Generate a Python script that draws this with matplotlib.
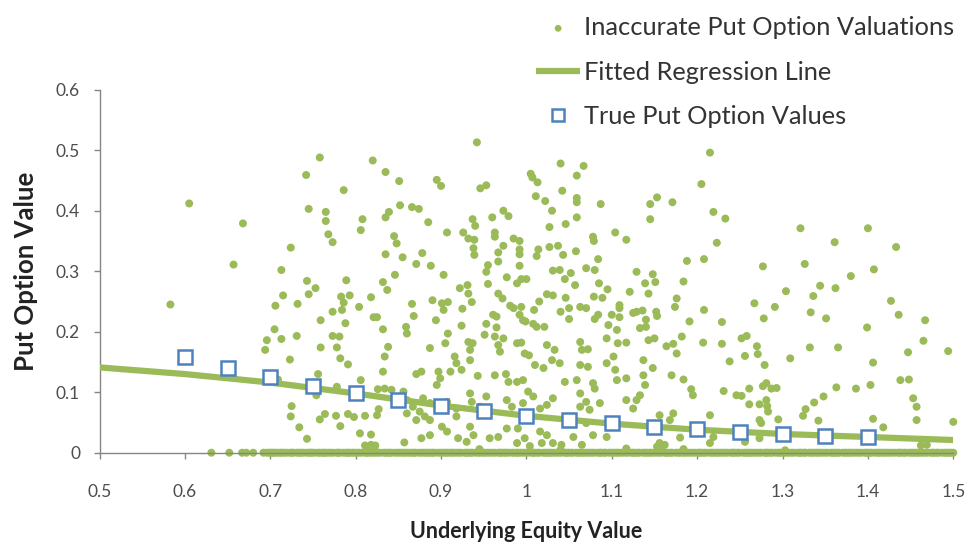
import matplotlib
matplotlib.use("Agg")
import matplotlib.pyplot as plt

plt.rcParams['font.family'] = ['Lato', 'DejaVu Sans']

# Inaccurate put option valuations (x = underlying equity value, y = put value)
inaccurate_pts = [
    (0.758,0.488),(0.820,0.483),(0.835,0.464),(0.742,0.459),(0.786,0.434),(0.605,0.412),(0.745,0.403),
    (0.765,0.398),(0.765,0.383),(0.808,0.386),(0.835,0.389),(0.839,0.398),(0.668,0.379),(0.806,0.368),
    (0.768,0.361),(0.773,0.348),(0.724,0.339),(0.835,0.328),(0.657,0.311),(0.713,0.302),(0.743,0.284),
    (0.789,0.285),(0.832,0.282),(0.753,0.272),(0.837,0.269),(0.715,0.260),(0.745,0.262),(0.783,0.258),
    (0.793,0.260),(0.818,0.257),(0.583,0.245),(0.706,0.243),(0.732,0.246),(0.786,0.248),(0.773,0.233),
    (0.784,0.236),(0.804,0.241),(0.759,0.219),(0.788,0.214),(0.821,0.224),(0.825,0.224),(0.705,0.204),
    (0.832,0.204),(0.696,0.186),(0.713,0.188),(0.731,0.193),(0.694,0.170),(0.759,0.174),(0.773,0.193),
    (0.781,0.192),(0.778,0.174),(0.838,0.175),(0.723,0.154),(0.782,0.156),(0.791,0.146),(0.834,0.159),
    (0.832,0.134),(0.756,0.130),(0.709,0.121),(0.806,0.120),(0.778,0.109),(0.826,0.105),(0.834,0.106),
    (0.754,0.095),(0.725,0.077),(0.724,0.060),(0.764,0.064),(0.758,0.055),(0.777,0.061),(0.791,0.064),
    (0.798,0.059),(0.811,0.061),(0.825,0.062),(0.827,0.072),(0.734,0.042),(0.782,0.044),(0.805,0.032),
    (0.818,0.030),(0.743,0.023),(0.811,0.012),(0.823,0.012),(0.942,0.513),(0.851,0.449),(0.895,0.451),
    (0.900,0.441),(0.946,0.437),(0.953,0.442),(1.040,0.478),(1.067,0.474),(1.005,0.461),(1.007,0.455),
    (1.013,0.447),(1.059,0.458),(1.042,0.433),(1.011,0.424),(1.022,0.416),(1.059,0.421),(1.059,0.414),
    (1.087,0.411),(1.145,0.411),(1.153,0.422),(1.171,0.414),(1.145,0.386),(0.852,0.409),(0.866,0.406),
    (0.874,0.403),(0.885,0.381),(0.973,0.400),(0.979,0.391),(0.960,0.389),(1.030,0.400),(0.937,0.386),
    (0.940,0.375),(1.027,0.373),(1.046,0.378),(1.059,0.389),(0.907,0.364),(0.926,0.364),(0.932,0.354),
    (0.939,0.352),(0.963,0.364),(0.963,0.357),(0.985,0.354),(0.992,0.350),(0.845,0.358),(0.848,0.346),
    (0.973,0.342),(0.938,0.338),(0.939,0.327),(0.992,0.336),(0.992,0.328),(1.014,0.336),(1.012,0.325),
    (1.027,0.340),(1.037,0.342),(1.043,0.327),(1.058,0.333),(1.078,0.357),(1.079,0.350),(1.104,0.364),
    (1.117,0.352),(0.855,0.323),(0.878,0.330),(0.871,0.312),(0.888,0.309),(0.967,0.331),(0.967,0.316),
    (0.955,0.310),(0.953,0.299),(0.992,0.309),(1.084,0.320),(1.070,0.305),(1.080,0.302),(1.031,0.301),
    (1.039,0.302),(1.052,0.297),(0.903,0.294),(0.846,0.294),(0.977,0.290),(0.989,0.280),(0.994,0.287),
    (1.000,0.287),(0.955,0.279),(1.045,0.287),(1.057,0.277),(1.085,0.280),(1.095,0.270),(1.129,0.299),
    (1.148,0.295),(1.151,0.282),(1.139,0.280),(1.143,0.263),(1.121,0.266),(1.176,0.255),(1.174,0.241),
    (0.922,0.272),(0.931,0.277),(0.932,0.263),(0.967,0.263),(0.972,0.255),(1.024,0.262),(1.031,0.260),
    (1.015,0.250),(1.046,0.256),(1.079,0.258),(1.089,0.256),(0.890,0.252),(0.866,0.246),(0.901,0.247),
    (0.908,0.249),(0.903,0.236),(0.936,0.249),(0.925,0.238),(0.981,0.243),(0.985,0.239),(0.994,0.241),
    (1.009,0.236),(1.040,0.233),(1.050,0.239),(1.063,0.241),(1.070,0.239),(1.109,0.244),(1.109,0.239),
    (1.129,0.233),(1.136,0.235),(1.152,0.233),(1.153,0.226),(0.868,0.226),(0.894,0.219),(0.961,0.228),
    (0.965,0.225),(0.992,0.228),(0.996,0.219),(1.050,0.221),(1.084,0.228),(1.080,0.221),(1.100,0.228),
    (1.109,0.224),(1.125,0.231),(1.140,0.220),(0.859,0.208),(0.924,0.210),(0.953,0.213),(0.965,0.207),
    (0.999,0.217),(1.008,0.213),(1.012,0.208),(1.021,0.208),(1.096,0.211),(1.106,0.203),(1.133,0.206),
    (1.140,0.208),(0.860,0.197),(0.908,0.197),(0.905,0.181),(0.932,0.183),(0.937,0.181),(0.934,0.170),
    (0.951,0.195),(0.963,0.192),(0.973,0.189),(0.967,0.178),(0.969,0.167),(0.989,0.181),(0.994,0.182),
    (1.024,0.178),(1.033,0.170),(1.063,0.183),(1.065,0.170),(1.072,0.171),(1.094,0.189),(1.107,0.181),
    (1.117,0.182),(1.143,0.186),(1.150,0.189),(1.164,0.176),(1.172,0.180),(1.176,0.164),(0.887,0.173),
    (0.916,0.159),(0.918,0.148),(0.911,0.134),(0.924,0.137),(0.934,0.153),(0.897,0.134),(0.899,0.123),
    (0.895,0.112),(0.871,0.130),(0.877,0.134),(0.943,0.127),(0.963,0.128),(0.976,0.130),(0.979,0.117),
    (0.989,0.117),(0.996,0.120),(0.998,0.164),(1.003,0.161),(1.010,0.145),(1.020,0.140),(1.030,0.153),
    (1.039,0.148),(1.045,0.117),(1.059,0.120),(1.078,0.115),(1.080,0.106),(1.063,0.145),(1.072,0.142),
    (1.094,0.148),(1.104,0.137),(1.106,0.120),(1.117,0.123),(1.137,0.128),(1.139,0.112),(1.137,0.153),
    (1.148,0.140),(1.170,0.128),(1.102,0.159),(0.842,0.104),(0.856,0.101),(0.860,0.087),(0.879,0.090),
    (0.887,0.082),(0.867,0.076),(0.875,0.068),(0.907,0.084),(0.918,0.073),(0.918,0.060),(0.934,0.098),
    (0.936,0.084),(0.953,0.093),(0.946,0.076),(0.977,0.087),(0.983,0.076),(0.996,0.082),(1.002,0.101),
    (1.008,0.093),(1.016,0.073),(1.024,0.079),(1.031,0.090),(1.063,0.076),(1.070,0.084),(1.074,0.071),
    (1.086,0.082),(1.117,0.087),(1.125,0.073),(1.129,0.087),(1.133,0.095),(1.063,0.098),(1.156,0.062),
    (1.172,0.065),(0.860,0.065),(0.871,0.054),(0.881,0.060),(0.887,0.054),(0.901,0.043),(0.907,0.035),
    (0.934,0.043),(0.938,0.029),(0.957,0.024),(0.967,0.026),(0.977,0.040),(0.990,0.040),(0.998,0.024),
    (1.016,0.035),(1.024,0.029),(1.055,0.026),(1.070,0.049),(1.078,0.029),(1.094,0.026),(0.877,0.024),
    (0.887,0.029),(0.857,0.017),(0.920,0.024),(0.930,0.018),(0.989,0.016),(1.004,0.011),(1.018,0.016),
    (1.031,0.016),(1.041,0.013),(1.065,0.013),(1.117,0.007),(1.156,0.016),(1.162,0.013),(1.215,0.496),
    (1.205,0.444),(1.219,0.398),(1.233,0.387),(1.321,0.371),(1.400,0.371),(1.361,0.348),(1.433,0.340),
    (1.223,0.347),(1.188,0.317),(1.208,0.320),(1.277,0.308),(1.326,0.312),(1.407,0.303),(1.380,0.292),
    (1.184,0.283),(1.304,0.267),(1.344,0.276),(1.362,0.272),(1.336,0.259),(1.208,0.236),(1.267,0.247),
    (1.291,0.241),(1.427,0.251),(1.333,0.232),(1.278,0.222),(1.351,0.222),(1.436,0.228),(1.467,0.219),
    (1.191,0.217),(1.229,0.216),(1.399,0.207),(1.182,0.192),(1.207,0.182),(1.229,0.180),(1.252,0.189),
    (1.258,0.193),(1.270,0.176),(1.271,0.163),(1.256,0.160),(1.238,0.151),(1.279,0.145),(1.309,0.156),
    (1.332,0.174),(1.365,0.174),(1.465,0.185),(1.447,0.166),(1.494,0.168),(1.406,0.149),(1.184,0.121),
    (1.193,0.105),(1.195,0.095),(1.231,0.102),(1.246,0.095),(1.252,0.094),(1.261,0.106),(1.277,0.110),
    (1.281,0.115),(1.287,0.106),(1.293,0.107),(1.273,0.080),(1.281,0.087),(1.282,0.077),(1.283,0.068),
    (1.261,0.080),(1.363,0.108),(1.386,0.106),(1.403,0.112),(1.438,0.120),(1.448,0.121),(1.453,0.090),
    (1.457,0.076),(1.457,0.054),(1.500,0.051),(1.348,0.093),(1.337,0.083),(1.327,0.072),(1.324,0.061),
    (1.342,0.053),(1.406,0.056),(1.418,0.042),(1.295,0.055),(1.273,0.054),(1.275,0.049),(1.215,0.062),
    (1.168,0.054),(1.219,0.026),(1.215,0.016),(1.180,0.025),(1.273,0.024),(1.256,0.018),(1.469,0.013),
    (1.303,0.004),(1.184,0.006),(0.813,0.008),(0.818,0.013),(0.822,0.006),(1.153,0.010),(1.158,0.006),
    (1.462,0.012),(0.945,0.006),(1.040,0.005),
]

# Valuations that came out at zero (x positions along the baseline)
zero_x = [0.631, 0.652, 0.667, 0.672, 0.680, 0.692, 0.696, 0.699, 0.701, 0.703, 0.705, 0.708, 0.711,
          0.713, 0.716, 0.719, 0.723, 0.725, 0.727, 0.731, 0.734, 0.736, 0.738, 0.742, 0.745, 0.747,
          0.749, 0.752, 0.756, 0.758, 0.761, 0.763, 0.765, 0.768, 0.771, 0.774, 0.778, 0.780, 0.782,
          0.786, 0.789, 0.791, 0.793, 0.796, 0.798, 0.801, 0.804, 0.807, 0.811, 0.813, 0.815, 0.818,
          0.820, 0.823, 0.826, 0.829, 0.833, 0.835, 0.838, 0.840, 0.842, 0.846, 0.849, 0.852, 0.855,
          0.857, 0.860, 0.863, 0.866, 0.868, 0.870, 0.874, 0.877, 0.880, 0.883, 0.885, 0.888, 0.890,
          0.892, 0.896, 0.899, 0.902, 0.905, 0.907, 0.910, 0.913, 0.915, 0.918, 0.921, 0.924, 0.928,
          0.930, 0.932, 0.935, 0.937, 0.941, 0.944, 0.946, 0.949, 0.951, 0.954, 0.957, 0.960, 0.963,
          0.967, 0.969, 0.971, 0.974, 0.976, 0.979, 0.983, 0.985, 0.988, 0.990, 0.993, 0.996, 0.999,
          1.002, 1.006, 1.008, 1.010, 1.013, 1.015, 1.019, 1.022, 1.024, 1.027, 1.029, 1.032, 1.035,
          1.038, 1.041, 1.045, 1.047, 1.049, 1.052, 1.054, 1.058, 1.061, 1.063, 1.066, 1.068, 1.071,
          1.074, 1.077, 1.080, 1.084, 1.086, 1.088, 1.091, 1.093, 1.097, 1.100, 1.102, 1.105, 1.107,
          1.110, 1.113, 1.116, 1.119, 1.123, 1.125, 1.127, 1.130, 1.132, 1.136, 1.139, 1.141, 1.144,
          1.146, 1.149, 1.152, 1.155, 1.158, 1.162, 1.164, 1.166, 1.169, 1.171, 1.175, 1.178, 1.180,
          1.183, 1.185, 1.188, 1.191, 1.194, 1.197, 1.201, 1.203, 1.205, 1.208, 1.210, 1.214, 1.217,
          1.219, 1.222, 1.224, 1.227, 1.230, 1.233, 1.236, 1.240, 1.242, 1.244, 1.247, 1.249, 1.253,
          1.256, 1.258, 1.261, 1.263, 1.266, 1.269, 1.272, 1.275, 1.279, 1.281, 1.283, 1.286, 1.288,
          1.292, 1.295, 1.297, 1.300, 1.302, 1.305, 1.308, 1.311, 1.314, 1.318, 1.320, 1.322, 1.325,
          1.327, 1.331, 1.334, 1.336, 1.339, 1.341, 1.344, 1.347, 1.350, 1.353, 1.357, 1.359, 1.361,
          1.364, 1.366, 1.370, 1.373, 1.375, 1.378, 1.380, 1.383, 1.386, 1.389, 1.392, 1.396, 1.398,
          1.400, 1.403, 1.405, 1.409, 1.412, 1.414, 1.417, 1.419, 1.422, 1.425, 1.428, 1.431, 1.435,
          1.437, 1.439, 1.442, 1.444, 1.448, 1.451, 1.453, 1.456, 1.458, 1.461, 1.464, 1.467, 1.470,
          1.474, 1.476, 1.478, 1.481, 1.483, 1.487, 1.490, 1.492, 1.495, 1.497, 1.500]

# Fitted regression line
fit_x = [0.5, 0.6, 0.7, 0.8, 0.9, 1.0, 1.1, 1.2, 1.3, 1.4, 1.5]
fit_y = [0.141, 0.130, 0.116, 0.098, 0.078, 0.061, 0.048, 0.038, 0.031, 0.026, 0.021]

# True put option values
true_x = [0.60, 0.65, 0.70, 0.75, 0.80, 0.85, 0.90, 0.95, 1.00, 1.05, 1.10, 1.15, 1.20, 1.25, 1.30, 1.35, 1.40]
true_y = [0.159, 0.140, 0.125, 0.110, 0.098, 0.087, 0.077, 0.069, 0.061, 0.054, 0.049, 0.043, 0.040,
          0.035, 0.031, 0.028, 0.026]

x_ticks = [0.5, 0.6, 0.7, 0.8, 0.9, 1.0, 1.1, 1.2, 1.3, 1.4, 1.5]
x_tick_labels = ['0.5', '0.6', '0.7', '0.8', '0.9', '1', '1.1', '1.2', '1.3', '1.4', '1.5']
y_ticks = [0, 0.1, 0.2, 0.3, 0.4, 0.5, 0.6]
y_tick_labels = ['0', '0.1', '0.2', '0.3', '0.4', '0.5', '0.6']

GREEN = '#9BBB59'
BLUE = '#4F81BD'
GRAY = '#868686'
TXT = '#4D4D4D'

fig = plt.figure(figsize=(9.69, 5.44), dpi=100)
ax = fig.add_axes([0.1027, 0.1678, 0.8811, 0.6673])

dots_x = [p[0] for p in inaccurate_pts] + zero_x
dots_y = [p[1] for p in inaccurate_pts] + [0.0] * len(zero_x)

ax.scatter(dots_x, dots_y, s=33, color=GREEN, edgecolors='none', clip_on=False, zorder=2,
           label='Inaccurate Put Option Valuations')
ax.plot(fit_x, fit_y, color=GREEN, lw=4.5, solid_capstyle='butt', zorder=3,
        label='Fitted Regression Line')
ax.plot(true_x, true_y, ls='none', marker='s', ms=10.5, mfc='white', mec=BLUE, mew=1.8, zorder=4,
        label='True Put Option Values')

ax.set_xlim(0.5, 1.5)
ax.set_ylim(0, 0.6)
ax.set_xticks(x_ticks)
ax.set_xticklabels(x_tick_labels)
ax.set_yticks(y_ticks)
ax.set_yticklabels(y_tick_labels)

for s in ['top', 'right']:
    ax.spines[s].set_visible(False)
for s in ['left', 'bottom']:
    ax.spines[s].set_color(GRAY)
    ax.spines[s].set_linewidth(1.0)
ax.tick_params(axis='both', colors=GRAY, labelcolor=TXT, labelsize=12.5, length=4.5, width=1,
               direction='out')
ax.tick_params(axis='x', pad=18)
ax.tick_params(axis='y', pad=9.5)

ax.set_xlabel('Underlying Equity Value', fontsize=15.5, fontweight='bold', color='#222222', labelpad=15)
ax.set_ylabel('Put Option Value', fontsize=18.5, fontweight='bold', color='#222222', labelpad=13)

fig.legend(loc='upper left', bbox_to_anchor=(536 / 969, 1 - 16 / 544), frameon=False,
           fontsize=18.3, handlelength=1.74, handletextpad=0.14, labelspacing=0.85,
           borderaxespad=0, borderpad=0, labelcolor='#333333', markerscale=0.85)

fig.savefig('out.png', dpi=100)
